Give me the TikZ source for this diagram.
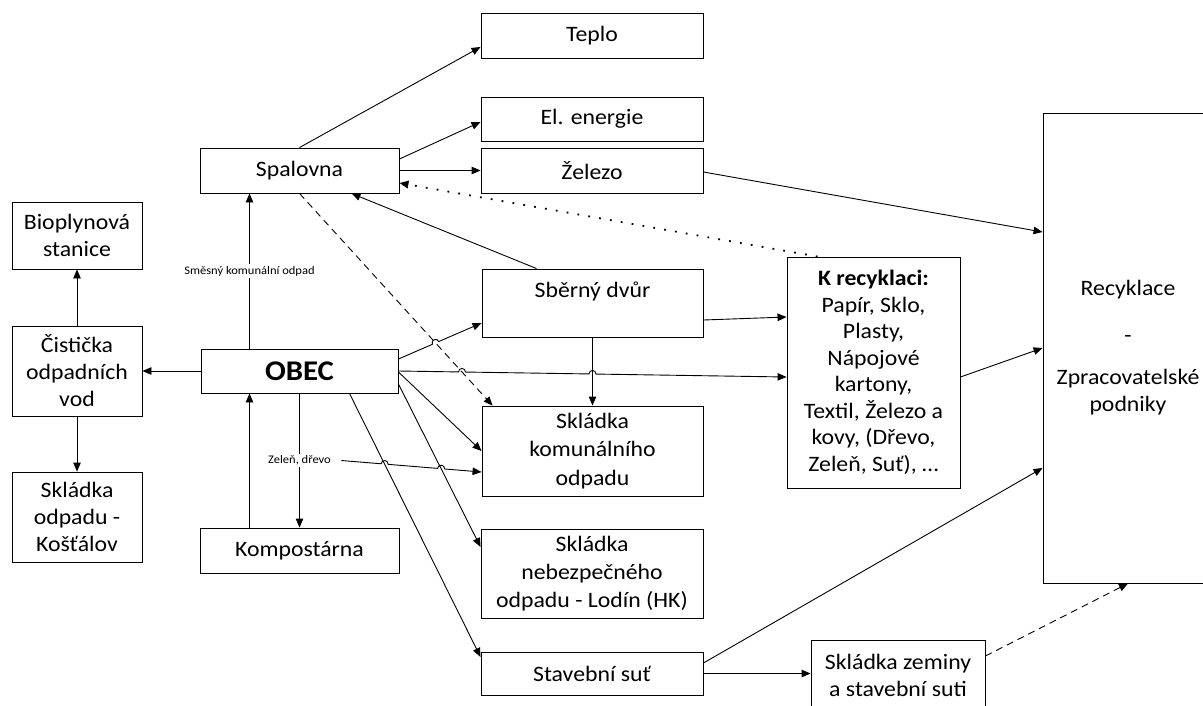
\documentclass[tikz,border=0pt]{standalone}
\usepackage{fontspec}
\setmainfont{Carlito}[FakeStretch=1.08]
\usetikzlibrary{arrows.meta,calc,intersections}
\begin{document}
\begin{tikzpicture}[x=1pt,y=-1pt,
  box/.style={draw=black, line width=0.9pt, align=center, inner sep=0pt,
    font=\fontsize{22}{27}\selectfont, text=black},
  arr/.style={line width=0.9pt, -{Triangle[length=9pt,width=7.5pt]}},
  lbl/.style={font=\fontsize{11.6}{13}\selectfont, fill=white, inner xsep=1pt, inner ysep=2pt, text=black},
  dasharr/.style={arr, dash pattern=on 7pt off 5pt},
  dotarr/.style={arr, line width=1.8pt, dash pattern=on 1.8pt off 9.2pt},
  hop/.style={bend left=90, looseness=1.7}
]
\useasboundingbox (0,0) rectangle (1203,705);
\clip (0,0) rectangle (1203,705);

% ---------- boxes ----------
\node[box, minimum width=222pt, minimum height=45pt] (teplo) at (592,35.5) {Teplo};
\node[box, minimum width=222pt, minimum height=44pt] (elen) at (592,119) {El. energie};
\node[box, minimum width=222pt, minimum height=45pt] (zel) at (592,170.5) {Železo};
\node[box, minimum width=199pt, minimum height=45pt] (spal) at (299.5,170.5) {Spalovna};
\node[box, minimum width=221pt, minimum height=68pt] (sber) at (592.5,303) {Sběrný dvůr\\\mbox{}};
\node[box, minimum width=221pt, minimum height=90pt, font=\fontsize{22}{28.5}\selectfont] (skom) at (592.5,451) {Skládka\\komunálního\\odpadu};
\node[box, minimum width=222pt, minimum height=89pt, font=\fontsize{22}{28}\selectfont] (sneb) at (592,573.5) {Skládka\\nebezpečného\\odpadu - Lodín (HK)};
\node[box, minimum width=222pt, minimum height=43pt] (stav) at (592,673.5) {Stavební suť};
\node[box, minimum width=174pt, minimum height=70pt] (zem) at (898,675) {Skládka zeminy\\a stavební suti};
\node[box, minimum width=173pt, minimum height=231pt, font=\fontsize{22}{26.5}\selectfont] (krec) at (873.5,372.5)
  {\textbf{K recyklaci:}\\Papír, Sklo,\\Plasty,\\Nápojové\\kartony,\\Textil, Železo a\\kovy, (Dřevo,\\Zeleň, Suť), …};
\node[box, minimum width=170pt, minimum height=470pt] (recyk) at (1128,348)
  {Recyklace\\[20pt]-\\[15pt]Zpracovatelské\\podniky};
\node[box, minimum width=197pt, minimum height=44pt, font=\fontsize{28.5}{31}\selectfont\bfseries] (obec) at (299.5,371) {OBEC};
\node[box, minimum width=199pt, minimum height=45pt] (komp) at (299.5,550.5) {Kompostárna};
\node[box, minimum width=130pt, minimum height=67pt] (bio) at (77,235.5) {Bioplynová\\stanice};
\node[box, minimum width=130pt, minimum height=90pt] (cist) at (77,371) {Čistička\\odpadních\\vod};
\node[box, minimum width=130pt, minimum height=90pt] (kost) at (77,517) {Skládka\\odpadu -\\Košťálov};

% ---------- Spalovna outputs ----------
\draw[arr] (spal.north) -- ([yshift=-11.5pt]teplo.west);
\draw[arr] ([yshift=11.5pt]spal.east) -- ([yshift=-3pt]elen.west);
\draw[arr] (spal.east) -- (zel.west);
\draw[dotarr] ([xshift=31pt]krec.north west) -- ([yshift=-12.5pt]spal.east);
\draw[arr] ([xshift=55pt]sber.north west) -- ([xshift=52pt]spal.south);
\draw[dasharr, name path=dsh] (spal.south) -- ([xshift=11pt]skom.north west);

% ---------- OBEC ----------
\draw[arr] ([xshift=-50pt]obec.north) -- ([xshift=-50pt]spal.south)
  node[midway, lbl] {Směsný komunální odpad};
\draw[arr] (obec.west) -- (cist.east);
\draw[arr] (cist.north) -- (bio.south);
\draw[arr] (cist.south) -- (kost.north);
\draw[arr] ([xshift=-50pt]komp.north) -- ([xshift=-50pt]obec.south);
\draw[arr] (obec.south) -- (komp.north)
  node[midway, lbl, inner xsep=10pt] (zd) {Zeleň, dřevo};
\draw[arr] ([yshift=-1pt]obec.east) -- (skom.west);
\draw[arr, name path=osneb] ([yshift=-13pt]obec.east) -- ([yshift=26.5pt]sneb.west);
\draw[arr, name path=ostav] ([xshift=50pt]obec.south) -- ([yshift=16.5pt]stav.west);
\draw[arr, name path=svert] (sber.south) -- (skom.north);

% OBEC -> Sberny dvur (hop over dashed)
\coordinate (o1) at ([yshift=12pt]obec.east);
\coordinate (s1) at ([yshift=-20pt]sber.west);
\path[name path=p1] (o1) -- (s1);
\path[name intersections={of=p1 and dsh, by=h1}];
\draw[arr] (o1) -- ($(h1)!3.5pt!(o1)$) to[hop] ($(h1)!3.5pt!(s1)$) -- (s1);

% OBEC -> K recyklaci (hops over dashed and vertical)
\coordinate (o2) at (obec.east);
\coordinate (k2) at ([yshift=-4.5pt]krec.west);
\path[name path=p2] (o2) -- (k2);
\path[name intersections={of=p2 and dsh, by=h2}];
\path[name intersections={of=p2 and svert, by=h3}];
\draw[arr] (o2) -- ($(h2)!3.5pt!(o2)$) to[hop] ($(h2)!3.5pt!(k2)$)
  -- ($(h3)!3.5pt!(o2)$) to[hop] ($(h3)!3.5pt!(k2)$) -- (k2);

% Zelen, drevo -> Skladka komunalniho (hops)
\coordinate (z1) at (zd.east);
\coordinate (z2) at ([yshift=-21pt]skom.west);
\path[name path=p3] (z1) -- (z2);
\path[name intersections={of=p3 and ostav, by=h4}];
\path[name intersections={of=p3 and osneb, by=h5}];
\draw[arr] (z1) -- ($(h4)!3.5pt!(z1)$) to[hop] ($(h4)!3.5pt!(z2)$)
  -- ($(h5)!3.5pt!(z1)$) to[hop] ($(h5)!3.5pt!(z2)$) -- (z2);

% ---------- right side ----------
\draw[arr] ([yshift=-17pt]sber.east) -- ([yshift=55.5pt]krec.west);
\draw[arr] ([yshift=-1.5pt]zel.east) -- ([yshift=116pt]recyk.west);
\draw[arr] ([yshift=-4.5pt]krec.east) -- (recyk.west);
\draw[arr] ([yshift=10.5pt]stav.east) -- ([yshift=-120pt]recyk.west);
\draw[arr] (stav.east) -- (stav.east -| zem.west);
\draw[dasharr] ([yshift=19pt]zem.east) -- (recyk.south);
\end{tikzpicture}
\end{document}
